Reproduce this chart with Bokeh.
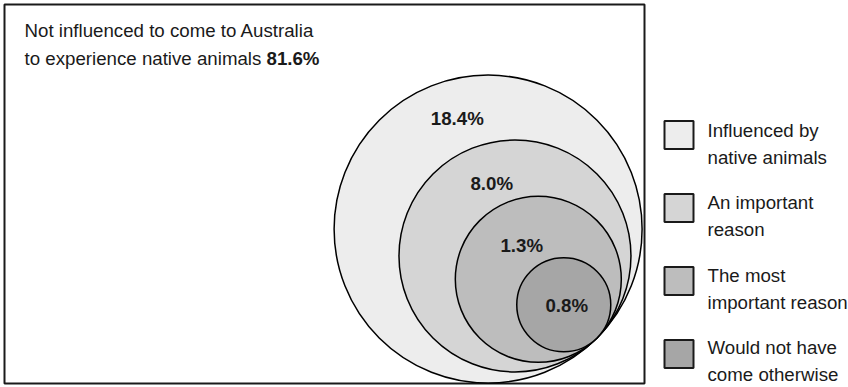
from bokeh.plotting import figure
from bokeh.models import Range1d, ColumnDataSource
from bokeh.core.properties import value
from bokeh.embed import file_html
from bokeh.resources import INLINE
import math

# ---- data ----
categories = ["Influenced by native animals", "An important reason",
              "The most important reason", "Would not have come otherwise"]
legend_line1 = ["Influenced by", "An important", "The most", "Would not have"]
legend_line2 = ["native animals", "reason", "important reason", "come otherwise"]
percent = [18.4, 8.0, 1.3, 0.8]
not_influenced_pct = 81.6
title_line1 = "Not influenced to come to Australia"
title_line2 = "to experience native animals "

# ---- layout / style ----
W, H = 848, 387
FONT = "Liberation Sans"
FS = "18.7px"
TXT = "#1a1a1a"
fills = ["#ededed", "#d5d5d5", "#bdbdbd", "#a6a6a6"]
radii = [154, 116, 83, 47]          # drawn circle radii (px)
tangent = (596.5, 337.5)            # common tangent point
ang = math.radians(45)
box = dict(left=4, right=644, top=4, bottom=383)

p = figure(width=W, height=H, output_backend="svg", toolbar_location=None,
           x_range=Range1d(0, W), y_range=Range1d(H, 0), min_border=0,
           background_fill_color="white", border_fill_color="white")
p.axis.visible = False
p.grid.visible = False
p.outline_line_color = None

# frame box
p.quad(left=[box["left"]], right=[box["right"]], top=[box["top"]], bottom=[box["bottom"]],
       fill_color=None, line_color=TXT, line_width=2)

# nested circles
cx = [tangent[0] - r * math.cos(ang) for r in radii]
cy = [tangent[1] - r * math.sin(ang) for r in radii]
src = ColumnDataSource(dict(x=cx, y=cy, r=radii, c=fills))
p.circle(x="x", y="y", radius="r", fill_color="c", line_color="black",
         line_width=1.5, source=src)

# ring labels
lx, ly = [], []
fr = [0.67, 0.78, 0.8]
for i in range(len(radii)):
    top_i = cy[i] - radii[i]
    if i < len(radii) - 1:
        top_n = cy[i + 1] - radii[i + 1]
        ly.append(top_i + fr[i] * (top_n - top_i))
        lx.append(cx[i] - 0.2 * radii[i])
    else:
        ly.append(cy[i] + 1)
        lx.append(cx[i] + 3)
lab = [f"{v:.1f}%" for v in percent]
p.text(x=lx, y=ly, text=lab, text_font=value(FONT), text_font_size=FS,
       text_font_style="bold", text_align="center", text_baseline="middle",
       text_color=TXT)

# header text
p.text(x=[24, 24], y=[30, 58], text=[title_line1, title_line2], text_font=value(FONT),
       text_font_size=FS, text_baseline="middle", text_color=TXT)
p.text(x=[266], y=[58], text=[f"{not_influenced_pct:.1f}%"], text_font=value(FONT),
       text_font_size=FS, text_font_style="bold", text_baseline="middle",
       text_color=TXT)

# legend
n = len(categories)
sq_y = [134.5 + 73 * i for i in range(n)]
t1_y = [130 + 72.3 * i for i in range(n)]
t2_y = [y + 27 for y in t1_y]
p.rect(x=[678.5] * n, y=sq_y, width=29, height=28,
       fill_color=fills, line_color=TXT, line_width=2)
p.text(x=[707] * n, y=t1_y, text=legend_line1, text_font=value(FONT),
       text_font_size=FS, text_baseline="middle", text_color=TXT)
p.text(x=[707] * n, y=t2_y, text=legend_line2, text_font=value(FONT),
       text_font_size=FS, text_baseline="middle", text_color=TXT)

open("out.html", "w").write(file_html(p, INLINE))
